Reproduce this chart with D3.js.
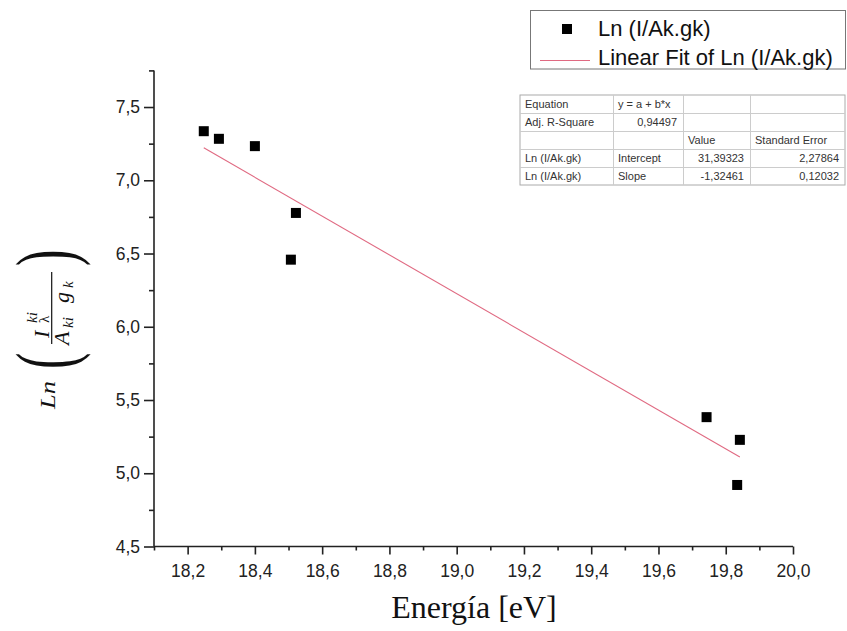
<!DOCTYPE html>
<html><head><meta charset="utf-8">
<script src="https://cdn.jsdelivr.net/npm/d3@7"></script>
<style>body{margin:0;background:#fff}</style>
</head><body><svg id="chart" width="847" height="631"></svg>
<script>
// ---- data ----
const energy = [18.248, 18.293, 18.400, 18.507, 18.522, 19.743, 19.834, 19.842];
const lnRatio = [7.335, 7.283, 7.233, 6.458, 6.777, 5.383, 4.920, 5.228];
const fitIntercept = 31.39323;
const fitSlope = -1.32461;
const xTicks = [18.2, 18.4, 18.6, 18.8, 19.0, 19.2, 19.4, 19.6, 19.8, 20.0];
const xMinorTicks = [18.1, 18.3, 18.5, 18.7, 18.9, 19.1, 19.3, 19.5, 19.7, 19.9];
const yTicks = [4.5, 5.0, 5.5, 6.0, 6.5, 7.0, 7.5];
const yMinorTicks = [4.75, 5.25, 5.75, 6.25, 6.75, 7.25, 7.75];
const seriesName = "Ln (I/Ak.gk)";
const fitName = "Linear Fit of Ln (I/Ak.gk)";
const tableRows = [
  ["Equation", "y = a + b*x", "", ""],
  ["Adj. R-Square", "0,94497", "", ""],
  ["", "", "Value", "Standard Error"],
  ["Ln (I/Ak.gk)", "Intercept", "31,39323", "2,27864"],
  ["Ln (I/Ak.gk)", "Slope", "-1,32461", "0,12032"]
];
const xTitle = "Energía [eV]";

// ---- chart ----
const svg = d3.select("#chart");
const x = d3.scaleLinear().domain([18.1, 20.0]).range([154, 793]);
const y = d3.scaleLinear().domain([4.5, 7.75]).range([546.5, 70.4]);
const fmt = v => d3.format(".1f")(v).replace(".", ",");
const axisColor = "#222";
const tickFont = "Liberation Sans, Arial, sans-serif";

// x axis
const gx = svg.append("g").attr("transform", `translate(0,${y.range()[0]})`);
gx.call(d3.axisBottom(x).tickValues(xTicks).tickSize(8).tickPadding(10).tickFormat(fmt));
gx.append("g").call(d3.axisBottom(x).tickValues(xMinorTicks).tickSize(4).tickFormat(""))
  .select(".domain").remove();
// y axis
const gy = svg.append("g").attr("transform", `translate(${x.range()[0]},0)`);
gy.call(d3.axisLeft(y).tickValues(yTicks).tickSize(10).tickPadding(4).tickFormat(fmt));
gy.append("g").call(d3.axisLeft(y).tickValues(yMinorTicks).tickSize(5).tickFormat(""))
  .select(".domain").remove();

[gx, gy].forEach(g => {
  g.selectAll(".domain").attr("stroke", axisColor).attr("stroke-width", 1.6);
  g.selectAll("line").attr("stroke", axisColor).attr("stroke-width", 1.6);
  g.selectAll("text").attr("fill", "#222").style("font-family", tickFont).style("font-size", "17.5px");
});
gx.select(".domain").attr("d", `M${x.range()[0]},0H${x.range()[1]}`);
gy.select(".domain").attr("d", `M0,${y.range()[0]}V${y.range()[1]}`);

// fit line
const xmin = d3.min(energy), xmax = d3.max(energy);
svg.append("line")
  .attr("x1", x(xmin)).attr("y1", y(fitIntercept + fitSlope * xmin))
  .attr("x2", x(xmax)).attr("y2", y(fitIntercept + fitSlope * xmax))
  .attr("stroke", "#e06a82").attr("stroke-width", 1.1);

// points
const ms = 10;
svg.append("g").selectAll("rect").data(energy).join("rect")
  .attr("x", (d) => x(d) - ms / 2)
  .attr("y", (d, i) => y(lnRatio[i]) - ms / 2)
  .attr("width", ms).attr("height", ms).attr("fill", "#000");

// x title
svg.append("text").attr("x", 474).attr("y", 618)
  .attr("text-anchor", "middle")
  .style("font-family", "Liberation Serif, 'DejaVu Serif', serif").style("font-size", "32px")
  .attr("fill", "#111").text(xTitle);

// y title (math)
const serif = "Liberation Serif, 'DejaVu Serif', serif";
const yl = svg.append("g").attr("transform", "translate(55,329) rotate(-90)")
  .attr("fill", "#111").style("font-family", serif).style("font-style", "italic");
yl.append("text").attr("x", -80).attr("y", 0).style("font-size", "22px")
  .attr("textLength", 28).attr("lengthAdjust", "spacingAndGlyphs").text("Ln");
yl.append("text").attr("transform", "translate(-40,17.5) scale(0.6,1)")
  .style("font-style", "normal").style("font-size", "82px").text("(");
yl.append("text").attr("transform", "translate(63,17.5) scale(0.6,1)")
  .style("font-style", "normal").style("font-size", "82px").text(")");
yl.append("line").attr("x1", -15).attr("x2", 57).attr("y1", -3.3).attr("y2", -3.3)
  .attr("stroke", "#111").attr("stroke-width", 1.2);
yl.append("text").attr("x", -9).attr("y", -6).style("font-size", "22px").text("I");
yl.append("text").attr("x", 6).attr("y", -18).style("font-size", "15px").text("ki");
yl.append("text").attr("x", 6).attr("y", -6).style("font-size", "15px").style("font-style", "normal").text("λ");
yl.append("text").attr("x", -16).attr("y", 14).style("font-size", "22px").text("A");
yl.append("text").attr("x", 1).attr("y", 18).style("font-size", "15px").text("ki");
yl.append("text").attr("x", 26).attr("y", 14).style("font-size", "22px").text("g");
yl.append("text").attr("x", 41).attr("y", 18).style("font-size", "15px").text("k");

// legend
const legend = svg.append("g");
legend.append("rect").attr("x", 530.5).attr("y", 10.5).attr("width", 315).attr("height", 58.5)
  .attr("fill", "#fff").attr("stroke", "#777").attr("stroke-width", 1);
legend.append("rect").attr("x", 562).attr("y", 24).attr("width", ms).attr("height", ms).attr("fill", "#000");
legend.append("line").attr("x1", 540).attr("x2", 590).attr("y1", 60.5).attr("y2", 60.5)
  .attr("stroke", "#e06a82").attr("stroke-width", 1.1);
legend.append("text").attr("x", 598).attr("y", 36).style("font-family", tickFont)
  .style("font-size", "22px").attr("fill", "#111").text(seriesName);
legend.append("text").attr("x", 598).attr("y", 65).style("font-family", tickFont)
  .style("font-size", "22px").attr("fill", "#111").text(fitName);

// parameter table
const colEdges = [520, 613, 683, 750, 845];
const rowEdges = [95, 113, 131, 149, 167, 185];
const tg = svg.append("g").style("font-family", tickFont).style("font-size", "11px");
tg.append("rect").attr("x", colEdges[0]).attr("y", rowEdges[0])
  .attr("width", colEdges[4] - colEdges[0]).attr("height", rowEdges[5] - rowEdges[0])
  .attr("fill", "#fff").attr("stroke", "#aaa");
rowEdges.slice(1, -1).forEach(r => tg.append("line").attr("x1", colEdges[0]).attr("x2", colEdges[4])
  .attr("y1", r + 0.5).attr("y2", r + 0.5).attr("stroke", "#ccc"));
colEdges.slice(1, -1).forEach(c => tg.append("line").attr("x1", c + 0.5).attr("x2", c + 0.5)
  .attr("y1", rowEdges[0]).attr("y2", rowEdges[5]).attr("stroke", "#ccc"));
const isNum = s => /^-?[\d,]+$/.test(s);
tableRows.forEach((row, ri) => {
  row.forEach((cell, ci) => {
    if (!cell) return;
    const num = isNum(cell);
    tg.append("text")
      .attr("x", num ? colEdges[ci + 1] - 6 : colEdges[ci] + 5)
      .attr("y", (rowEdges[ri] + rowEdges[ri + 1]) / 2 + 4)
      .attr("text-anchor", num ? "end" : "start")
      .attr("fill", "#333").text(cell);
  });
});
</script></body></html>
